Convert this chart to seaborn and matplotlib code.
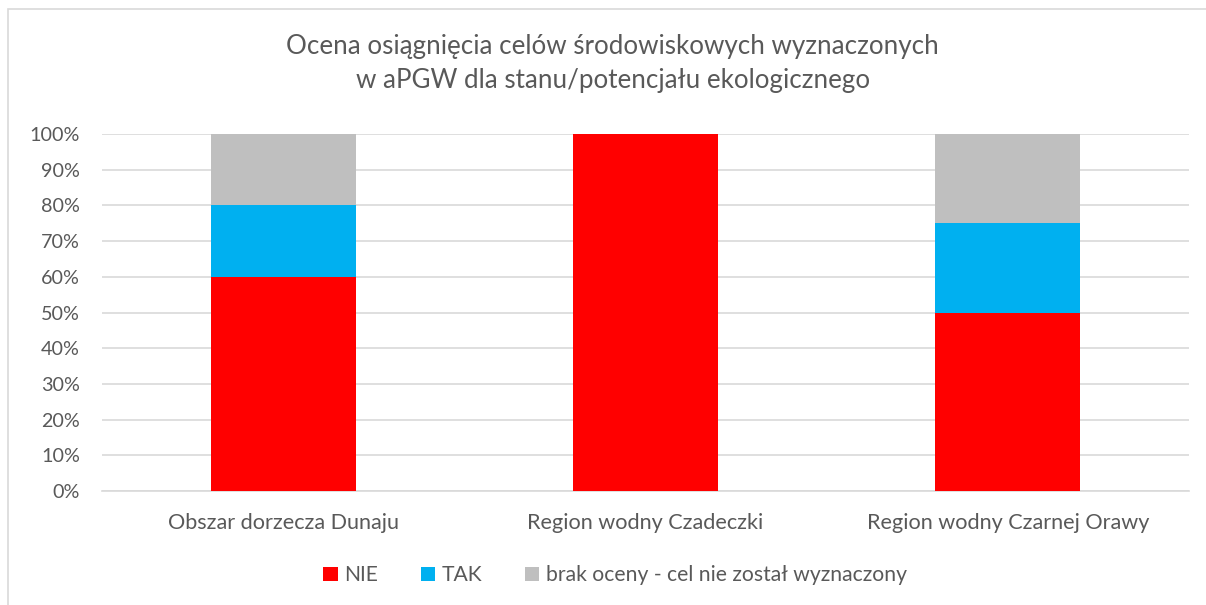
import pandas as pd
import numpy as np
import seaborn as sns
import matplotlib.pyplot as plt
from matplotlib.patches import Patch, Rectangle


regions = ["Obszar dorzecza Dunaju", "Region wodny Czadeczki", "Region wodny Czarnej Orawy"]
nie = [60, 100, 50]
tak = [20, 0, 25]
brak = [20, 0, 25]
series = ["NIE", "TAK", "brak oceny - cel nie został wyznaczony"]
colors = ["#FF0000", "#00B0F0", "#BFBFBF"]

sns.set_style("white")
plt.rcParams['font.family'] = ['Lato', 'DejaVu Sans']

# cumulative heights, drawn back to front
df = pd.DataFrame({"region": regions, "NIE": nie, "TAK": tak, "brak": brak})
df["c1"] = df["NIE"]
df["c2"] = df["NIE"] + df["TAK"]
df["c3"] = df["c2"] + df["brak"]

fig = plt.figure(figsize=(12.06, 6.05), dpi=100)
ax = fig.add_axes([0.0846, 0.1884, 0.9014, 0.5901])

for col, c in zip(["c3", "c2", "c1"], colors[::-1]):
    sns.barplot(data=df, x="region", y=col, color=c, width=0.4, ax=ax,
                saturation=1, linewidth=0, edgecolor="none", zorder=3)

ax.set_ylim(0, 100)
ax.set_xlim(-0.5, 2.5)
ax.set_yticks(np.arange(0, 101, 10))
ax.set_yticklabels([f"{v}%" for v in range(0, 101, 10)])
ax.yaxis.grid(True, color="#D9D9D9", linewidth=1.2, zorder=0)
ax.set_axisbelow(True)
for s in ["top", "right", "left"]:
    ax.spines[s].set_visible(False)
ax.spines["bottom"].set_color("#D9D9D9")
ax.spines["bottom"].set_linewidth(1.2)
ax.tick_params(axis="both", length=0, colors="#595959")
ax.tick_params(axis="y", labelsize=14.2, pad=16)
ax.tick_params(axis="x", labelsize=15.6, pad=16)
ax.set_xlabel("")
ax.set_ylabel("")

fig.text(0.508, 0.895, "Ocena osiągnięcia celów środowiskowych wyznaczonych\nw aPGW dla stanu/potencjału ekologicznego",
         ha="center", va="center", fontsize=18.7, color="#595959", linespacing=1.45)

handles = [Patch(facecolor=c, edgecolor="none") for c in colors]
fig.legend(handles, series, loc="center", bbox_to_anchor=(0.51, 0.049), ncol=3,
           frameon=False, fontsize=15.2, labelcolor="#595959", handlelength=0.7,
           handleheight=0.7, handletextpad=0.3, columnspacing=2.0)

fig.patches.append(Rectangle((8 / 1206, -0.1), 1.2, 1 - 9 / 605 + 0.1, transform=fig.transFigure,
                             fill=False, edgecolor="#D9D9D9", linewidth=1.2))

fig.savefig("out.png", dpi=100)
